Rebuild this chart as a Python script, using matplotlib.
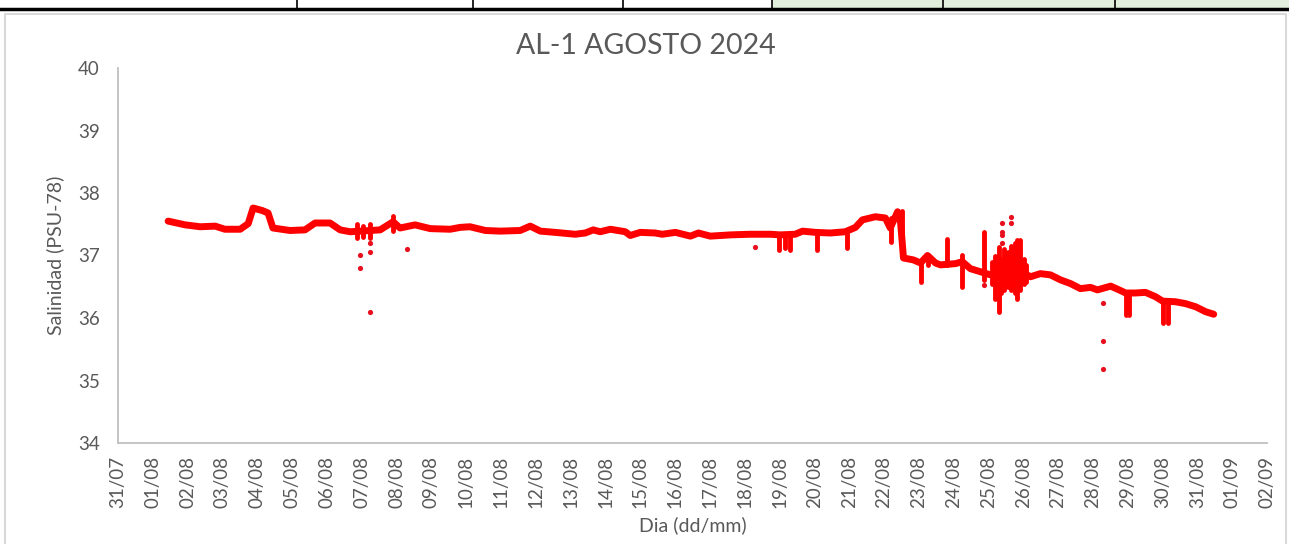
import numpy as np
import matplotlib
matplotlib.use('Agg')
import matplotlib.pyplot as plt
import matplotlib.dates as mdates
from matplotlib.patches import Rectangle
from matplotlib.lines import Line2D
import datetime as dt

# days counted from 31/07/2024 00:00
main_days = [1.44, 1.93, 2.36, 2.79, 3.07, 3.51, 3.74, 3.88, 4.14, 4.31, 4.45, 4.94,
             5.37, 5.66, 6.09, 6.38, 6.67, 6.95, 7.53, 7.90, 8.10, 8.53, 8.97, 9.54,
             9.83, 10.11, 10.55, 10.98, 11.55, 11.84, 12.13, 12.56, 13.13, 13.42, 13.65,
             13.85, 14.14, 14.57, 14.71, 15.00, 15.43, 15.63, 16.01, 16.44, 16.67, 17.01,
             17.59, 18.16, 18.74, 19.02, 19.45, 19.66, 20.03, 20.46, 20.89, 21.18, 21.38,
             21.75, 22.04, 22.18, 22.39, 22.47, 22.56, 22.84, 23.05, 23.25, 23.48, 23.62,
             24.05, 24.25, 24.48, 24.77, 25.06, 25.26, 25.57, 25.83, 26.01, 26.21, 26.49,
             26.78, 27.07, 27.36, 27.64, 27.93, 28.13, 28.51, 28.79, 28.94, 29.22, 29.51,
             29.80, 30.00, 30.37, 30.66, 30.95, 31.24, 31.47]
main_sal = [37.55, 37.49, 37.46, 37.47, 37.42, 37.42, 37.51, 37.76, 37.72, 37.68, 37.44, 37.40,
            37.41, 37.52, 37.52, 37.41, 37.38, 37.39, 37.41, 37.54, 37.44, 37.49, 37.43, 37.42,
            37.45, 37.46, 37.40, 37.39, 37.40, 37.47, 37.39, 37.37, 37.34, 37.36, 37.41,
            37.38, 37.42, 37.38, 37.32, 37.37, 37.36, 37.34, 37.37, 37.31, 37.36, 37.31,
            37.33, 37.34, 37.34, 37.33, 37.34, 37.39, 37.37, 37.36, 37.38, 37.45, 37.57,
            37.62, 37.60, 37.44, 37.70, 37.57, 36.96, 36.93, 36.88, 37.00, 36.88, 36.85,
            36.87, 36.90, 36.79, 36.74, 36.69, 36.72, 36.80, 36.75, 36.72, 36.66, 36.71,
            36.69, 36.61, 36.55, 36.47, 36.49, 36.45, 36.51, 36.44, 36.40, 36.40, 36.41,
            36.34, 36.27, 36.26, 36.23, 36.18, 36.10, 36.06]

# short vertical bursts of readings
spike_days = [6.85, 7.05, 7.25, 7.90, 18.97, 19.15, 19.31, 20.07, 20.95, 22.20, 22.52,
              23.05, 23.25, 23.80, 24.25, 24.86, 25.11, 25.20, 25.29, 25.37, 25.46,
              25.57, 25.66, 25.75, 25.83, 25.92, 26.01, 26.09,
              28.94, 29.05, 30.00, 30.16]
spike_lo = [37.28, 37.30, 37.28, 37.40, 37.09, 37.12, 37.09, 37.09, 37.12, 37.22, 37.20,
            36.58, 36.85, 36.85, 36.50, 36.61, 36.55, 36.30, 36.10, 36.40, 36.45,
            36.50, 36.45, 36.40, 36.30, 36.45, 36.55, 36.58,
            36.05, 36.05, 35.92, 35.92]
spike_hi = [37.50, 37.48, 37.50, 37.64, 37.33, 37.33, 37.33, 37.37, 37.38, 37.60, 37.72,
            36.88, 37.01, 37.27, 37.01, 37.38, 36.90, 37.00, 37.14, 36.95, 37.10,
            37.05, 37.15, 37.20, 37.25, 37.25, 36.95, 36.85,
            36.42, 36.42, 36.28, 36.28]

# isolated readings
out_days = [6.95, 6.95, 7.24, 7.24, 7.24, 8.30, 18.30, 24.86, 25.40, 25.40, 25.40, 25.40,
            25.66, 25.66, 28.30, 28.30, 28.30]
out_sal = [37.01, 36.80, 37.20, 37.06, 36.10, 37.11, 37.14, 36.53, 37.52, 37.38, 37.33,
           37.20, 37.62, 37.52, 36.24, 35.63, 35.19]

start = mdates.date2num(dt.datetime(2024, 7, 31))

grey = '#595959'
plt.rcParams['font.family'] = ['Lato', 'DejaVu Sans']

fig = plt.figure(figsize=(12.89, 5.44), dpi=100)

# spreadsheet cells peeking above the chart
W, H = 1289.0, 544.0
fig.patches.append(Rectangle((772 / W, 1 - 8 / H), 1 - 772 / W, 8 / H,
                             transform=fig.transFigure, facecolor='#E2EFDA',
                             edgecolor='none', zorder=0))
fig.lines.append(Line2D([0, 1], [1 - 8.5 / H, 1 - 8.5 / H], transform=fig.transFigure,
                        color='black', lw=2.5))
for cx in [297, 473, 623, 772, 943, 1115]:
    fig.lines.append(Line2D([cx / W, cx / W], [1 - 8 / H, 1], transform=fig.transFigure,
                            color='black', lw=1.2))
# chart area border
fig.lines.append(Line2D([5 / W, 5 / W, 1286 / W, 1286 / W], [0, 1 - 14 / H, 1 - 14 / H, 0],
                        transform=fig.transFigure, color='#D9D9D9', lw=1.5))

ax = fig.add_axes([118 / W, 1 - 443 / H, (1267 - 118) / W, (443 - 68) / H])

ax.plot(start + np.array(main_days), main_sal, color='#FF0000', lw=5,
        solid_joinstyle='round', solid_capstyle='round', zorder=3)
ax.vlines(start + np.array(spike_days), spike_lo, spike_hi, color='#FF0000', lw=3.5,
          capstyle='round', zorder=3)
ax.scatter(start + np.array(out_days), out_sal, s=14, color='#E8101E', zorder=4,
           linewidths=0)

ax.set_xlim(start, start + 33)
ax.set_ylim(34, 40)
ax.xaxis.set_major_locator(mdates.DayLocator())
ax.xaxis.set_major_formatter(mdates.DateFormatter('%d/%m'))
ax.set_yticks(range(34, 41))

for s in ['top', 'right']:
    ax.spines[s].set_visible(False)
for s in ['left', 'bottom']:
    ax.spines[s].set_color('#BFBFBF')
    ax.spines[s].set_linewidth(1.3)

ax.tick_params(axis='both', length=0, colors=grey, labelsize=13.5)
ax.tick_params(axis='x', rotation=90, pad=9)
ax.tick_params(axis='y', pad=13)

fig.text(646 / W, 1 - 46 / H, 'AL-1 AGOSTO 2024', color=grey, fontsize=20.5,
         ha='center', va='center')
ax.set_ylabel('Salinidad (PSU-78)', color=grey, fontsize=14, labelpad=10)
ax.set_xlabel('Dia (dd/mm)', color=grey, fontsize=14, labelpad=6)

fig.savefig('out.png', dpi=100)
